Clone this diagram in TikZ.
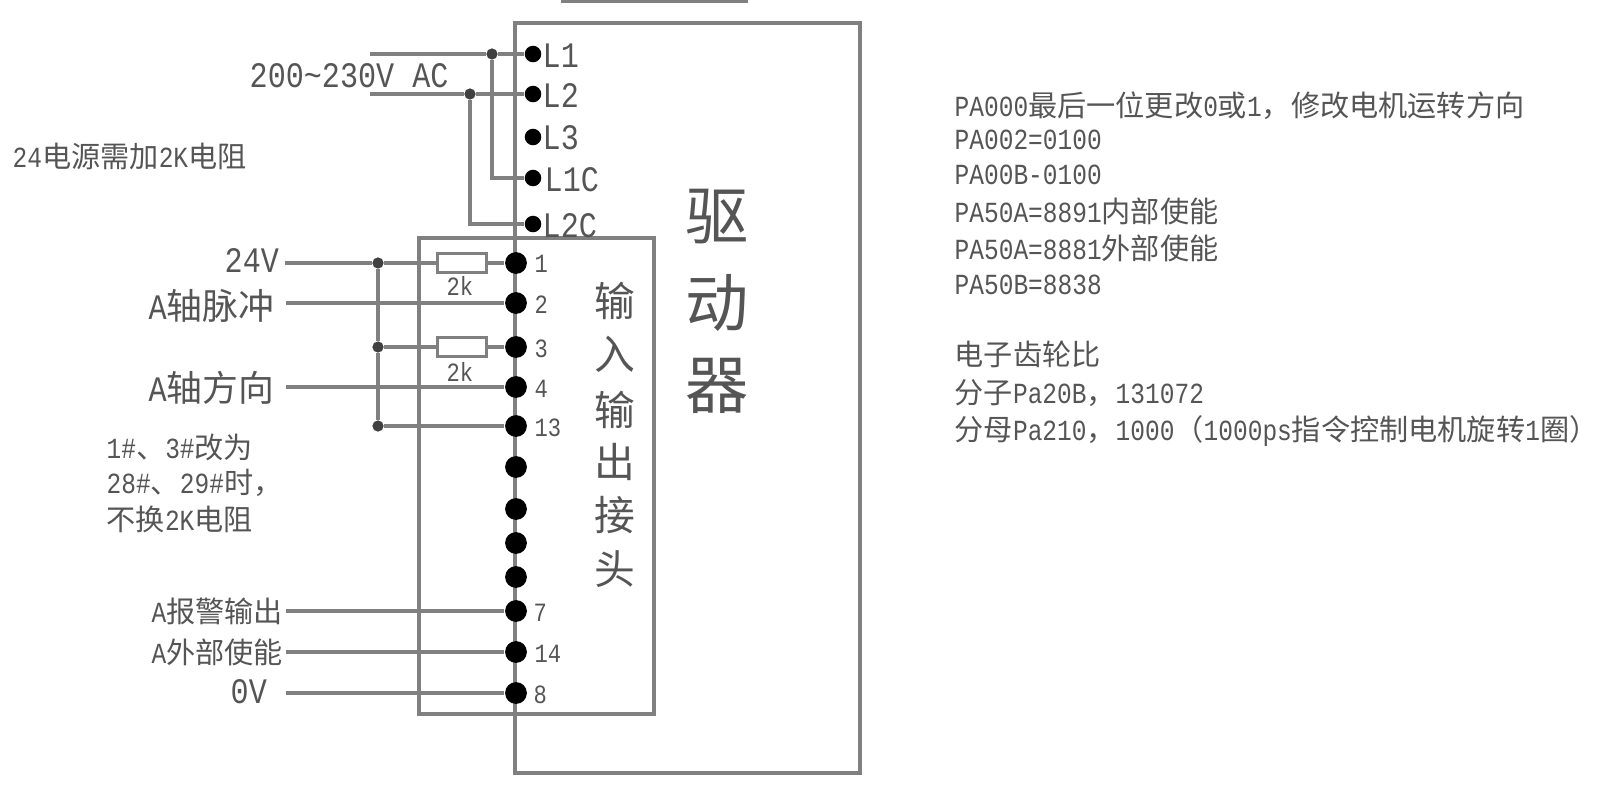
\documentclass[tikz,border=0pt]{standalone}
\usepackage{fontspec}
\setmainfont[FakeStretch=0.84]{Liberation Mono}
\newfontfamily\cjk{Noto Sans CJK SC}
\newcommand{\zh}[1]{{\cjk #1}}
\definecolor{linecol}{RGB}{128, 128, 128}
\definecolor{textcol}{RGB}{85, 85, 85}
\tikzset{
	boxline/.style = {linecol, line width = 1.1pt},
	wire/.style = {linecol, line width = 0.9pt},
	termdot/.style = {circle, fill = black, inner sep = 0pt, minimum size = 4.7pt},
	pindot/.style = {circle, fill = black, inner sep = 0pt, minimum size = 6.2pt},
	smalldot/.style = {circle, fill = black!75, inner sep = 0pt, minimum size = 3.2pt},
	resbox/.style = {draw = linecol, line width = 0.9pt, fill = white, inner sep = 0pt, minimum width = 14pt, minimum height = 5.5pt},
	txt/.style = {text = textcol, inner sep = 0pt, anchor = west},
	lbl/.style = {txt, font = \fontsize{10.2}{12}\selectfont},
	note/.style = {txt, font = \fontsize{8.3}{10}\selectfont},
	tiny/.style = {txt, font = \fontsize{7.5}{9}\selectfont},
	bigzh/.style = {txt, anchor = center, font = \cjk\fontsize{18}{20}\selectfont},
	midzh/.style = {txt, anchor = center, font = \cjk\fontsize{11.6}{14}\selectfont}
}

\begin{document}
\begin{tikzpicture}[x = 0.1mm, y = -0.1mm]
	\useasboundingbox (0, 0) rectangle (1600, 790);

	\fill[linecol] (561, 0) rectangle (748, 3);
	\draw[boxline] (515, 23) rectangle (860, 773);
	\draw[boxline] (419, 238) rectangle (654, 714);

	% terminals of the drive
	\node[termdot] (L1) at (533, 54) {};
	\node[termdot] (L2) at (533, 94) {};
	\node[termdot] (L3) at (533, 137) {};
	\node[termdot] (L1C) at (533, 178) {};
	\node[termdot] (L2C) at (533, 224) {};
	\node[lbl] (L1txt) at (542, 56) {L1};
	\node[lbl] (L2txt) at (542, 96) {L2};
	\node[lbl] (L3txt) at (542, 138) {L3};
	\node[lbl] (L1Ctxt) at (544, 180) {L1C};
	\node[lbl] (L2Ctxt) at (542, 226) {L2C};

	% terminals of the connector
	\node[pindot] (p1) at (516, 263) {};
	\node[pindot] (p2) at (516, 303) {};
	\node[pindot] (p3) at (516, 347) {};
	\node[pindot] (p4) at (516, 387) {};
	\node[pindot] (p13) at (516, 426) {};
	\node[pindot] (pa) at (516, 467) {};
	\node[pindot] (pb) at (516, 509) {};
	\node[pindot] (pc) at (516, 543) {};
	\node[pindot] (pd) at (516, 577) {};
	\node[pindot] (p7) at (516, 611) {};
	\node[pindot] (p14) at (516, 652) {};
	\node[pindot] (p8) at (516, 693) {};
	\node[tiny] (p1txt) at (534, 264) {1};
	\node[tiny] (p2txt) at (534, 305) {2};
	\node[tiny] (p3txt) at (534, 349) {3};
	\node[tiny] (p4txt) at (534, 389) {4};
	\node[tiny] (p13txt) at (534, 428) {13};
	\node[tiny] (p7txt) at (533, 613) {7};
	\node[tiny] (p14txt) at (534, 654) {14};
	\node[tiny] (p8txt) at (533, 695) {8};

	% left ends and junctions
	\coordinate (acA) at (370, 54);
	\coordinate (acB) at (370, 94);
	\node[smalldot] (jA) at (492, 54) {};
	\node[smalldot] (jB) at (470, 94) {};
	\coordinate (cornerA) at (492, 178);
	\coordinate (cornerB) at (470, 224);
	\coordinate (in24) at (285, 263);
	\coordinate (in2) at (286, 303);
	\coordinate (in4) at (286, 387);
	\coordinate (in7) at (286, 611);
	\coordinate (in14) at (286, 652);
	\coordinate (in8) at (286, 693);
	\node[smalldot] (j1) at (378, 263) {};
	\node[smalldot] (j3) at (378, 347) {};
	\node[smalldot] (j13) at (378, 426) {};
	\node[resbox] (r1) at (462, 263) {};
	\node[resbox] (r3) at (462, 347) {};

	\draw[wire, line width = 1.2pt] (acA) -- (jA) -- (L1);
	\draw[wire] (acB) -- (jB) -- (L2);
	\draw[wire] (jA) -- (cornerA) -- (L1C);
	\draw[wire] (jB) -- (cornerB) -- (L2C);
	\draw[wire] (in24) -- (j1) -- (r1) -- (p1);
	\draw[wire] (j1) -- (j3) -- (j13);
	\draw[wire] (j3) -- (r3) -- (p3);
	\draw[wire] (j13) -- (p13);
	\draw[wire] (in2) -- (p2);
	\draw[wire] (in4) -- (p4);
	\draw[wire] (in7) -- (p7);
	\draw[wire] (in14) -- (p14);
	\draw[wire] (in8) -- (p8);

	\node[tiny] (r1txt) at (446, 286) {2k};
	\node[tiny] (r3txt) at (446, 372) {2k};

	% labels on the left
	\node[lbl] (actxt) at (249, 76) {200\textasciitilde230V AC};
	\node[note] (needtxt) at (12, 156) {24\zh{电源需加}2K\zh{电阻}};
	\node[lbl] (in24txt) at (224, 261) {24V};
	\node[lbl] (in2txt) at (148, 306) {A\zh{轴脉冲}};
	\node[lbl] (in4txt) at (148, 388) {A\zh{轴方向}};
	\node[note] (chgA) at (106, 447) {1\#\zh{、}3\#\zh{改为}};
	\node[note] (chgB) at (106, 483) {28\#\zh{、}29\#\zh{时，}};
	\node[note] (chgC) at (106, 519) {\zh{不换}2K\zh{电阻}};
	\node[note] (in7txt) at (151, 611) {A\zh{报警输出}};
	\node[note] (in14txt) at (151, 652) {A\zh{外部使能}};
	\node[lbl] (in8txt) at (230, 692) {0V};

	% titles in the boxes
	\node[bigzh] (drvA) at (717, 217) {驱};
	\node[bigzh] (drvB) at (717, 303) {动};
	\node[bigzh] (drvC) at (717, 386) {器};
	\node[midzh] (ioA) at (615, 301) {输};
	\node[midzh] (ioB) at (615, 354) {入};
	\node[midzh] (ioC) at (615, 410) {输};
	\node[midzh] (ioD) at (615, 462) {出};
	\node[midzh] (ioE) at (615, 515) {接};
	\node[midzh] (ioF) at (615, 569) {头};

	% parameter list
	\node[note] (parA) at (954, 106) {PA000\zh{最后一位更改}0\zh{或}1\zh{，修改电机运转方向}};
	\node[note] (parB) at (954, 140) {PA002=0100};
	\node[note] (parC) at (954, 175) {PA00B-0100};
	\node[note] (parD) at (954, 211) {PA50A=8891\zh{内部使能}};
	\node[note] (parE) at (954, 248) {PA50A=8881\zh{外部使能}};
	\node[note] (parF) at (954, 285) {PA50B=8838};
	\node[note] (gearA) at (954, 354) {\zh{电子齿轮比}};
	\node[note] (gearB) at (954, 393) {\zh{分子}Pa20B\zh{，}131072};
	\node[note] (gearC) at (954, 431) {\zh{分母}Pa210\zh{，}1000\zh{（}1000ps\zh{指令控制电机旋转}1\zh{圈）}};
\end{tikzpicture}
\end{document}
